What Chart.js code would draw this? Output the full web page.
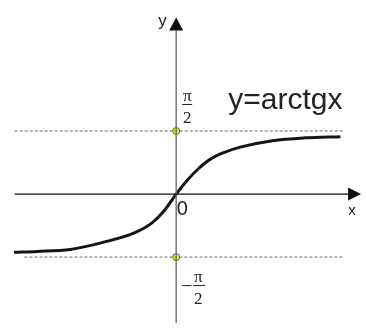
<!DOCTYPE html>
<html>
<head>
<meta charset="utf-8">
<script src="https://cdn.jsdelivr.net/npm/chart.js@4/dist/chart.umd.min.js"></script>
<style>
  html, body { margin: 0; padding: 0; background: #fff; }
  canvas { display: block; }
</style>
</head>
<body>
<canvas id="arctgChart" width="366" height="328"></canvas>
<script>
// curve (x, y in radians)
const curveX = [-4.03, -3.45, -2.63, -1.84, -1.04, -0.6, -0.31, 0, 0.27, 0.55, 0.85, 1.2, 1.59, 2.39, 3.19, 4.08];
const curveY = [-1.45, -1.43, -1.38, -1.21, -0.97, -0.72, -0.43, 0, 0.34, 0.63, 0.87, 1.04, 1.17, 1.33, 1.40, 1.43];

// asymptotes y = ±π/2
const asymptoteY = [Math.PI / 2, -Math.PI / 2];
const asymptoteStartX = [-4.01, -3.77];
const asymptoteEndX = [4.13, 4.13];

const xAxisRange = [-4.01, 4.59];
const yAxisRange = [-3.22, 4.40];

const curveData = curveX.map((x, i) => ({ x: x, y: curveY[i] }));

document.addEventListener("DOMContentLoaded", function () {
    const ctx = document.getElementById("arctgChart").getContext("2d");

    // axes, arrows and text labels
    const decorPlugin = {
        id: "decor",
        afterDatasetsDraw(chart) {
            const c = chart.ctx;
            const xs = chart.scales.x, ys = chart.scales.y;
            const ox = xs.getPixelForValue(0), oy = ys.getPixelForValue(0);
            const xEnd = xs.getPixelForValue(xAxisRange[1]);
            const yTop = ys.getPixelForValue(yAxisRange[1]);
            c.save();
            // x arrow
            c.fillStyle = "#111";
            c.beginPath();
            c.moveTo(xEnd, oy);
            c.lineTo(xEnd - 13, oy - 6.5);
            c.lineTo(xEnd - 13, oy + 6.5);
            c.closePath();
            c.fill();
            // y arrow
            c.beginPath();
            c.moveTo(ox, yTop);
            c.lineTo(ox - 7, yTop + 13);
            c.lineTo(ox + 7, yTop + 13);
            c.closePath();
            c.fill();

            c.fillStyle = "#222";
            c.textBaseline = "alphabetic";
            c.textAlign = "left";
            c.font = "17px Arial, 'Liberation Sans', sans-serif";
            c.fillText("y", ox - 18, yTop + 9);
            c.font = "15px Arial, 'Liberation Sans', sans-serif";
            c.fillText("x", ox + 172, oy + 21);
            c.font = "20px Arial, 'Liberation Sans', sans-serif";
            c.fillText("0", ox + 0.5, oy + 21);
            c.font = "30px Arial, 'Liberation Sans', sans-serif";
            c.fillText("y=arctgx", ox + 52, oy - 85);

            // fractions
            const pHalf = ys.getPixelForValue(asymptoteY[0]);
            const mHalf = ys.getPixelForValue(asymptoteY[1]);
            c.font = "17px 'Liberation Serif', 'DejaVu Serif', serif";
            c.textAlign = "center";
            c.strokeStyle = "#222";
            c.lineWidth = 1;
            // +π/2
            c.fillText("π", ox + 11, pHalf - 30);
            c.beginPath();
            c.moveTo(ox + 6, pHalf - 26.5);
            c.lineTo(ox + 16, pHalf - 26.5);
            c.stroke();
            c.fillText("2", ox + 11, pHalf - 8);
            // -π/2
            c.fillText("π", ox + 22, mHalf + 25);
            c.beginPath();
            c.moveTo(ox + 17, mHalf + 28.5);
            c.lineTo(ox + 29, mHalf + 28.5);
            c.stroke();
            c.beginPath();
            c.moveTo(ox + 6, mHalf + 28.5);
            c.lineTo(ox + 15, mHalf + 28.5);
            c.stroke();
            c.fillText("2", ox + 22, mHalf + 47);
            c.restore();
        }
    };

    new Chart(ctx, {
        type: "scatter",
        data: {
            datasets: [
                {
                    label: "x axis",
                    data: [{ x: xAxisRange[0], y: 0 }, { x: xAxisRange[1] - 0.2, y: 0 }],
                    showLine: true,
                    borderColor: "#111",
                    borderWidth: 1.2,
                    pointRadius: 0
                },
                {
                    label: "y axis",
                    data: [{ x: 0, y: yAxisRange[0] }, { x: 0, y: yAxisRange[1] - 0.2 }],
                    showLine: true,
                    borderColor: "#777",
                    borderWidth: 1.5,
                    pointRadius: 0
                },
                {
                    label: "pi/2",
                    data: [{ x: asymptoteStartX[0], y: asymptoteY[0] }, { x: asymptoteEndX[0], y: asymptoteY[0] }],
                    showLine: true,
                    borderColor: "#666",
                    borderWidth: 1,
                    borderDash: [3, 2],
                    pointRadius: 0
                },
                {
                    label: "-pi/2",
                    data: [{ x: asymptoteStartX[1], y: asymptoteY[1] }, { x: asymptoteEndX[1], y: asymptoteY[1] }],
                    showLine: true,
                    borderColor: "#666",
                    borderWidth: 1,
                    borderDash: [3, 2],
                    pointRadius: 0
                },
                {
                    label: "arctg",
                    data: curveData,
                    showLine: true,
                    borderColor: "#141414",
                    borderWidth: 3,
                    cubicInterpolationMode: "monotone",
                    pointRadius: 0
                },
                {
                    label: "marks",
                    data: asymptoteY.map(v => ({ x: 0, y: v })),
                    showLine: false,
                    pointRadius: 3.5,
                    backgroundColor: "#ffff00",
                    borderColor: "#555",
                    borderWidth: 1
                }
            ]
        },
        options: {
            responsive: false,
            animation: false,
            layout: { padding: 0 },
            plugins: {
                legend: { display: false },
                tooltip: { enabled: false }
            },
            scales: {
                x: { type: "linear", min: -4.251, max: 4.589, display: false },
                y: { type: "linear", min: -3.213, max: 4.710, display: false }
            }
        },
        plugins: [decorPlugin]
    });
});
</script>
</body>
</html>
